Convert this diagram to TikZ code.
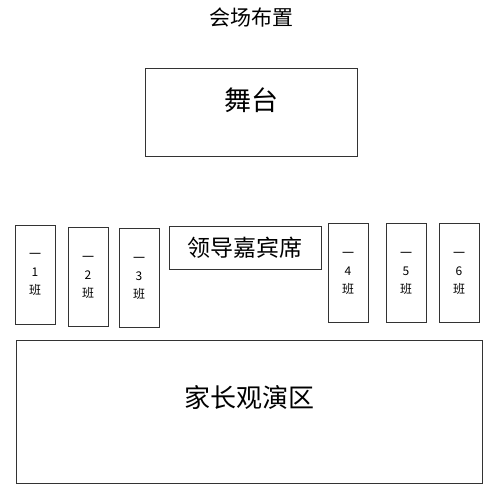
\documentclass[tikz,border=0pt]{standalone}
\usepackage{fontspec}
\setmainfont{Noto Sans CJK SC}
\usepackage{tikz}

\begin{document}
\begin{tikzpicture}[x=1pt,y=-1pt,
    area/.style={draw=black!80, line width=0.8pt, inner sep=0pt},
    classbox/.style={area, minimum width=40pt, minimum height=99pt, align=center,
      font=\fontsize{12}{18}\selectfont}]
                \useasboundingbox (0,0) rectangle (498,500);
                \node (title) at (251,18) {\fontsize{21}{21}\selectfont 会场布置};
                \node[area, minimum width=212pt, minimum height=88pt] (stage) at (251,112) {};
                \node at ([yshift=12pt]stage.center) {\fontsize{27}{27}\selectfont 舞台};
                \node[area, minimum width=152pt, minimum height=43pt] (guest) at (245,247.5) {\fontsize{23}{23}\selectfont 领导嘉宾席};
                \foreach \n/\x/\y in {1/35/274.5, 2/88/277, 3/139/278, 4/348/273, 5/406/273, 6/459/273}
                    \node[classbox] (c\n) at (\x,\y) {一\\\n\\班};
                \node[area, minimum width=466pt, minimum height=143pt] (parents) at (249,411.5) {};
                \node at ([yshift=14pt]parents.center) {\fontsize{26}{26}\selectfont 家长观演区};
            \end{tikzpicture}
\end{document}
